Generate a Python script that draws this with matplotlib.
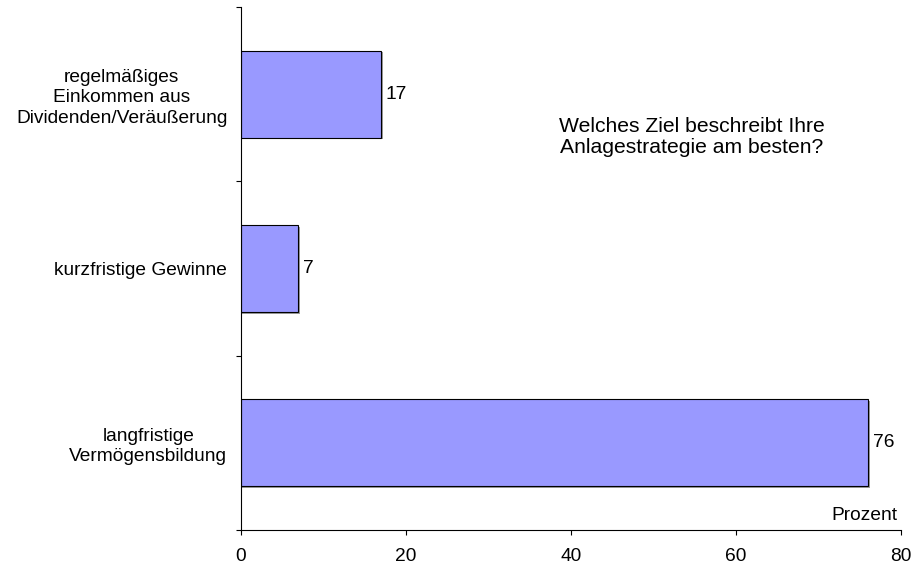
import matplotlib
matplotlib.use('Agg')
import matplotlib.pyplot as plt
import matplotlib.patheffects as pe

plt.rcParams['font.family'] = ['Liberation Sans', 'DejaVu Sans']

# Antworten auf die Frage nach der Anlagestrategie (in Prozent).
categories = ['langfristige\nVermögensbildung',
              'kurzfristige Gewinne',
              'regelmäßiges\nEinkommen aus\nDividenden/Veräußerung']
values = [76, 7, 17]
xticks = [0, 20, 40, 60, 80]

fs = 13.8

fig = plt.figure(figsize=(9.18, 5.69), dpi=100)
ax = fig.add_axes([0.262, 0.0685, 0.7195, 0.9192])

pos = list(range(len(categories)))
bars = ax.barh(pos, values, height=0.5, color='#9999FF',
               edgecolor='black', linewidth=0.8)
for b in bars:
    b.set_path_effects([pe.SimplePatchShadow(offset=(1.2, -1.2),
                                             shadow_rgbFace='0.45', alpha=0.7),
                        pe.Normal()])

# Werte rechts neben den Balken
for p, v in zip(pos, values):
    ax.annotate(str(v), xy=(v, p), xytext=(3.5, 0), textcoords='offset points',
                ha='left', va='center', fontsize=fs)

ax.set_xlim(0, 80)
ax.set_ylim(-0.5, 2.5)
ax.set_xticks(xticks)
ax.set_yticks(pos)
ax.set_yticklabels(categories)
for lbl in ax.get_yticklabels():
    lbl.set_multialignment('center')
    lbl.set_linespacing(1.25)
ax.set_yticks([-0.5, 0.5, 1.5, 2.5], minor=True)

ax.tick_params(axis='y', which='major', length=0, pad=9.5, labelsize=fs)
ax.tick_params(axis='y', which='minor', length=3.6, width=0.8, direction='out')
ax.tick_params(axis='x', which='major', length=3.6, width=0.8, direction='out',
               pad=9, labelsize=fs)

for side in ['top', 'right']:
    ax.spines[side].set_visible(False)
for side in ['left', 'bottom']:
    ax.spines[side].set_linewidth(0.8)

ax.text(0.6836, 0.752, 'Welches Ziel beschreibt Ihre\nAnlagestrategie am besten?',
        transform=ax.transAxes, ha='center', va='center', fontsize=15.2,
        linespacing=1.15)
ax.text(0.994, 0.019, 'Prozent', transform=ax.transAxes, ha='right',
        va='baseline', fontsize=fs)

fig.savefig('out.png', dpi=100)
